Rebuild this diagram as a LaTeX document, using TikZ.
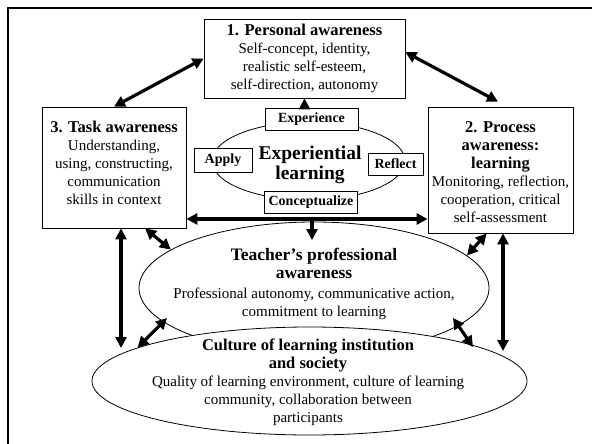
\documentclass[tikz,border=0pt]{standalone}
\usepackage{fontspec}
\setmainfont{Liberation Serif}
\usetikzlibrary{arrows.meta,shapes.geometric,calc}
\begin{document}
\begin{tikzpicture}[x=1pt,y=-1pt,
  box/.style={draw, line width=0.8pt, fill=white, inner sep=0pt},
  lab/.style={draw, line width=0.8pt, fill=white, inner sep=0pt, font=\fontsize{14}{16}\selectfont\bfseries, minimum height=22pt},
  oval/.style={draw, ellipse, line width=0.8pt, fill=white, inner sep=0pt},
  body/.style={align=center, font=\fontsize{15}{18}\selectfont},
  dbl/.style={{Triangle[length=11pt,width=11pt]}-{Triangle[length=11pt,width=11pt]}, line width=3.2pt},
  sgl/.style={-{Triangle[length=11pt,width=11pt]}, line width=3.2pt}]
\useasboundingbox (0,0) rectangle (592,444);
\draw[line width=2.8pt] (8,446) -- (8,8) -- (594,8);

% experiential learning cycle
\node[oval, minimum width=193pt, minimum height=78pt] (exl) at (308.5,161) {};
\node[align=center, font=\fontsize{19.5}{20}\selectfont\bfseries] (extxt) at (310,165) {Experiential\\learning};
\node[lab, minimum width=93pt] (exp) at (311.5,119) {Experience};
\node[lab, minimum width=58pt, minimum height=24pt] (apply) at (223,160) {Apply};
\node[lab, minimum width=55pt] (reflect) at (395.5,164) {Reflect};
\node[lab, minimum width=93pt] (concept) at (311,202) {Conceptualize};

% boxes
\node[box, minimum width=201pt, minimum height=79pt, body] (personal) at (304.5,58.5)
  {{\fontsize{16.5}{18}\selectfont\bfseries 1. Personal awareness}\\Self-concept, identity,\\realistic self-esteem,\\self-direction, autonomy};
\node[box, minimum width=144pt, minimum height=121pt] (task) at (114,167.5) {};
\node[body] (tasktxt) at (114,163)
  {{\fontsize{16.5}{18}\selectfont\bfseries 3. Task awareness}\\Understanding,\\using, constructing,\\communication\\skills in context};
\node[box, minimum width=145pt, minimum height=126pt] (process) at (500.5,170) {};
\node[body] (proctxt) at (500.5,172.5)
  {{\fontsize{16.5}{18}\selectfont\bfseries 2. Process}\\{\fontsize{16.5}{18}\selectfont\bfseries awareness:}\\{\fontsize{16.5}{18}\selectfont\bfseries learning}\\Monitoring, reflection,\\cooperation, critical\\self-assessment};

% ellipses
\node[oval, minimum width=350pt, minimum height=132pt] (teacher) at (314,288) {};
\node[body] (teachtxt) at (314,283.5)
  {{\fontsize{17.5}{19}\selectfont\bfseries Teacher’s professional}\\{\fontsize{17.5}{19}\selectfont\bfseries awareness}\\[2pt]Professional autonomy, communicative action,\\commitment to learning};
\node[oval, minimum width=435pt, minimum height=108pt] (culture) at (309.5,381) {};
\node[body] (culttxt) at (308,382.5)
  {{\fontsize{16.5}{18}\selectfont\bfseries Culture of learning institution}\\{\fontsize{16.5}{18}\selectfont\bfseries and society}\\Quality of learning environment, culture of learning\\community, collaboration between\\participants};

% connectors
\coordinate (hl) at (312,219);
\coordinate (hdn) at (312,240);
\coordinate (c1) at (121,348);
\coordinate (c2) at (503,351);
\draw[dbl] (task.north) -- (personal.west);
\draw[dbl] ($(personal.north east)!0.42!(personal.south east)$) -- ($(process.north)+(-2.5,-5)$);
\draw[sgl] (exp.north -| personal.south) -- (personal.south);
\draw[dbl] (task.east |- hl) -- (process.west |- hl);
\draw[sgl] (hl) -- (hdn);
\draw[dbl] ($(task.south west)!0.715!(task.south east)$) -- (teacher.165);
\draw[dbl] (task.south -| c1) -- (c1);
\draw[dbl] ($(teacher.center)+(-147,30)$) -- (culture.169);
\draw[dbl] ($(process.south west)!0.405!(process.south east)$) -- (teacher.12);
\draw[dbl] (process.south -| c2) -- (c2);
\draw[dbl] ($(teacher.center)+(139,30)$) -- ($(culture.center)+(163.5,-34)$);
\end{tikzpicture}
\end{document}
